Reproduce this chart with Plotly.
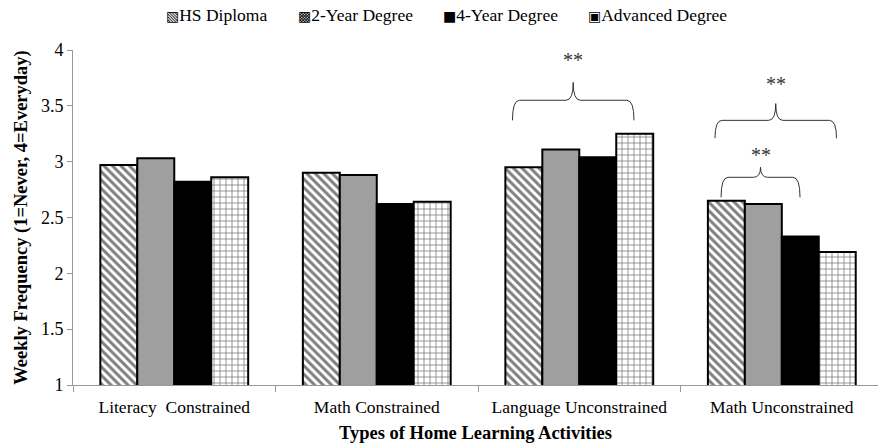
import plotly.graph_objects as go

categories = ["Literacy  Constrained", "Math Constrained", "Language Unconstrained", "Math Unconstrained"]
series_names = ["HS Diploma", "2-Year Degree", "4-Year Degree", "Advanced Degree"]
legend_glyphs = ["\u25A7", "\u25A9", "\u25A0", "\u25A3"]
hs_diploma = [2.97, 2.90, 2.95, 2.65]
two_year = [3.03, 2.88, 3.11, 2.62]
four_year = [2.82, 2.62, 3.04, 2.33]
advanced = [2.86, 2.64, 3.25, 2.19]
y_ticks = [1, 1.5, 2, 2.5, 3, 3.5, 4]

# significance brackets: (category index, left offset, right offset, line y, end y, peak y, star y)
brackets = [
    (2, -0.33, 0.27, 3.55, 3.37, 3.71, 3.91),
    (3, -0.33, 0.27, 3.37, 3.21, 3.52, 3.70),
    (3, -0.30, 0.09, 2.86, 2.68, 2.95, 3.06),
]

FONT = "Liberation Serif, Times New Roman, serif"
x = list(range(len(categories)))

W, H = 878, 444
ML, MR, MT, MB = 73, 0, 50, 59
plot_w = W - ML - MR
plot_h = H - MT - MB

fig = go.Figure()
styles = [
    dict(color="white", pattern=dict(shape="\\", fgcolor="black", bgcolor="white", size=6, solidity=0.5)),
    dict(color="white", pattern=dict(shape=".", fgcolor="#333", bgcolor="#bdbdbd", size=2, solidity=0.5)),
    dict(color="black"),
    dict(color="white", pattern=dict(shape="+", fgcolor="black", bgcolor="white", size=6, solidity=0.25)),
]
for name, vals, mk in zip(series_names, [hs_diploma, two_year, four_year, advanced], styles):
    mk = dict(mk)
    mk["line"] = dict(color="black", width=2)
    fig.add_trace(go.Bar(name=name, x=x, y=vals, marker=mk, showlegend=False))

def brace_path(x0, x1, yl, ye, yp):
    xm = (x0 + x1) / 2
    r = 0.035
    return (f"M {x0},{ye} Q {x0},{yl} {x0 + r},{yl} L {xm - r},{yl} "
            f"Q {xm},{yl} {xm},{yp} Q {xm},{yl} {xm + r},{yl} "
            f"L {x1 - r},{yl} Q {x1},{yl} {x1},{ye}")

for ci, lo, hi, yl, ye, yp, ys in brackets:
    x0, x1 = ci + lo, ci + hi
    fig.add_shape(type="path", xref="x", yref="y", path=brace_path(x0, x1, yl, ye, yp),
                  line=dict(color="#333", width=1))
    fig.add_annotation(x=(x0 + x1) / 2, y=ys, xref="x", yref="y", text="**", showarrow=False,
                       font=dict(family=FONT, size=20, color="#333"))

# legend drawn as text entries (glyph + label), left edges in page pixels
legend_left_px = [164, 296, 441, 586]
legend_center_y_px = 15
for glyph, name, px in zip(legend_glyphs, series_names, legend_left_px):
    fig.add_annotation(
        x=(px - ML) / plot_w, y=1 + (MT - legend_center_y_px) / plot_h,
        xref="paper", yref="paper",
        xanchor="left", yanchor="middle", showarrow=False,
        text=f"<span style='font-family:DejaVu Sans;font-size:14px'>{glyph}</span>{name}",
        font=dict(family=FONT, size=17.5, color="black"),
    )

fig.update_layout(
    width=W, height=H,
    margin=dict(l=ML, r=MR, t=MT, b=MB, autoexpand=False),
    paper_bgcolor="white", plot_bgcolor="white",
    barmode="group", bargap=0.27, bargroupgap=0,
    font=dict(family=FONT, size=17, color="black"),
    showlegend=False,
)
fig.update_xaxes(
    range=[-0.5, 3.475], tickvals=x, ticktext=categories, ticks="",
    showline=True, linecolor="#999", linewidth=1, showgrid=False, zeroline=False,
    minor=dict(ticks="outside", tick0=0.5, dtick=1, ticklen=6, tickcolor="#999", showgrid=False),
    tickfont=dict(family=FONT, size=17.5), ticklabelstandoff=6,
    title=dict(text="<b>Types of Home Learning Activities</b>", font=dict(family=FONT, size=18.5), standoff=10),
)
fig.update_yaxes(
    range=[1, 4], tickvals=y_ticks, ticks="outside", ticklen=5, tickcolor="#999",
    showline=True, linecolor="#999", linewidth=1, showgrid=False, zeroline=False,
    tickfont=dict(family=FONT, size=18),
    title=dict(text="<b>Weekly Frequency (1=Never, 4=Everyday)</b>", font=dict(family=FONT, size=18.5), standoff=8),
)
fig.write_html("out.html", config={"displayModeBar": False},
               post_script="document.body.style.margin='0';")
